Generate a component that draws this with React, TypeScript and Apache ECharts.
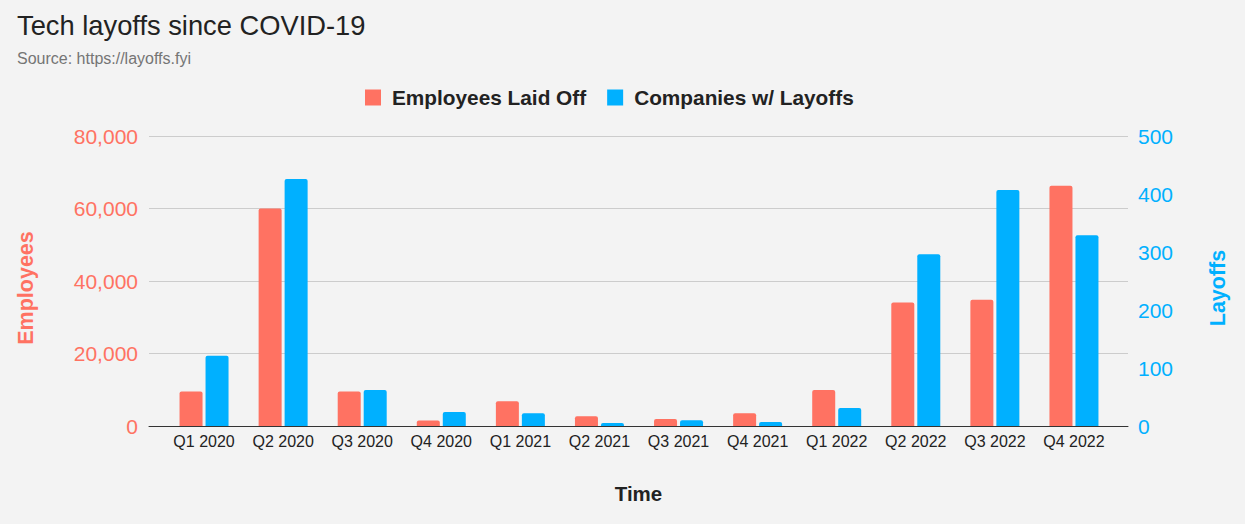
import React, { useEffect, useRef } from "react";
import * as echarts from "echarts";

const categories = [
  "Q1 2020", "Q2 2020", "Q3 2020", "Q4 2020",
  "Q1 2021", "Q2 2021", "Q3 2021", "Q4 2021",
  "Q1 2022", "Q2 2022", "Q3 2022", "Q4 2022",
];
const employeesLaidOff = [9500, 60000, 9500, 1500, 6800, 2700, 1900, 3500, 9900, 34100, 34800, 66300];
const companiesWithLayoffs = [121, 426, 62, 24, 22, 5, 10, 7, 31, 296, 407, 329];
const employeeAxis = { min: 0, max: 80000, interval: 20000 };
const layoffAxis = { min: 0, max: 500, interval: 100 };

const RED = "#ff7262";
const BLUE = "#00b0ff";
const FONT = "'Liberation Sans', Arial, sans-serif";

export default function App() {
  const ref = useRef<HTMLDivElement>(null);
  useEffect(() => {
    document.body.style.margin = "0";
    document.body.style.background = "#f3f3f3";
    const chart = echarts.init(ref.current!, null, { renderer: "svg" });
    const fmt = (v: number) => v.toLocaleString("en-US");
    chart.setOption({
      animation: false,
      backgroundColor: "#f3f3f3",
      textStyle: { fontFamily: FONT },
      title: {
        text: "Tech layoffs since COVID-19",
        subtext: "Source: https://layoffs.fyi",
        left: 12,
        top: 7,
        itemGap: 11,
        textStyle: { fontFamily: FONT, fontSize: 27.3, fontWeight: "normal", color: "#222" },
        subtextStyle: { fontFamily: FONT, fontSize: 16, color: "#757575" },
      },
      legend: {
        top: 82,
        left: 360,
        icon: "rect",
        itemWidth: 16,
        itemHeight: 16,
        itemGap: 21,
        textStyle: { fontFamily: FONT, fontSize: 20.8, fontWeight: "bold", color: "#222", padding: [0, 0, 0, 6] },
        data: ["Employees Laid Off", "Companies w/ Layoffs"],
      },
      grid: [
        { left: 149, right: 117, top: 136, bottom: 98 },
        { left: 164.5, right: 131.5, top: 136, bottom: 98 },
      ],
      xAxis: [
        {
          gridIndex: 0,
          type: "value",
          min: 0,
          max: 1,
          axisLine: { show: true, lineStyle: { color: "#333", width: 1 } },
          axisTick: { show: false },
          axisLabel: { show: false },
          splitLine: { show: false },
          name: "Time",
          nameLocation: "middle",
          nameGap: 57,
          nameTextStyle: { fontFamily: FONT, fontSize: 20.5, fontWeight: "bold", color: "#222" },
        },
        {
          gridIndex: 1,
          type: "category",
          data: categories,
          axisLine: { show: false },
          axisTick: { show: false },
          axisLabel: { color: "#222", fontSize: 16, margin: 7, fontFamily: FONT, interval: 0 },
        },
      ],
      yAxis: [
        {
          gridIndex: 0,
          type: "value",
          position: "left",
          ...employeeAxis,
          axisLine: { show: false },
          axisTick: { show: false },
          axisLabel: { color: RED, fontSize: 21, margin: 11, fontFamily: FONT, formatter: fmt },
          splitLine: { show: true, lineStyle: { color: "#cccccc", width: 1 } },
          name: "Employees",
          nameLocation: "middle",
          nameGap: 112,
          nameTextStyle: { fontFamily: FONT, fontSize: 21.5, fontWeight: "bold", color: RED, padding: [0, 14, 0, 0] },
        },
        {
          gridIndex: 0,
          type: "value",
          position: "right",
          ...layoffAxis,
          axisLine: { show: false },
          axisTick: { show: false },
          axisLabel: { color: BLUE, fontSize: 21, margin: 10, fontFamily: FONT },
          splitLine: { show: false },
          name: "Layoffs",
          nameLocation: "middle",
          nameGap: 79,
          nameTextStyle: { fontFamily: FONT, fontSize: 21.5, fontWeight: "bold", color: BLUE, padding: [0, 14, 0, 0] },
        },
        { gridIndex: 1, type: "value", ...employeeAxis, show: false },
        { gridIndex: 1, type: "value", ...layoffAxis, show: false },
      ],
      series: [
        {
          name: "Employees Laid Off",
          type: "bar",
          xAxisIndex: 1,
          yAxisIndex: 2,
          data: employeesLaidOff,
          barWidth: 23,
          barGap: "13%",
          itemStyle: { color: RED, borderRadius: [2, 2, 0, 0] },
        },
        {
          name: "Companies w/ Layoffs",
          type: "bar",
          xAxisIndex: 1,
          yAxisIndex: 3,
          data: companiesWithLayoffs,
          barWidth: 23,
          barGap: "13%",
          itemStyle: { color: BLUE, borderRadius: [2, 2, 0, 0] },
        },
      ],
    });
    return () => chart.dispose();
  }, []);
  return <div ref={ref} style={{ width: 1245, height: 524 }} />;
}
